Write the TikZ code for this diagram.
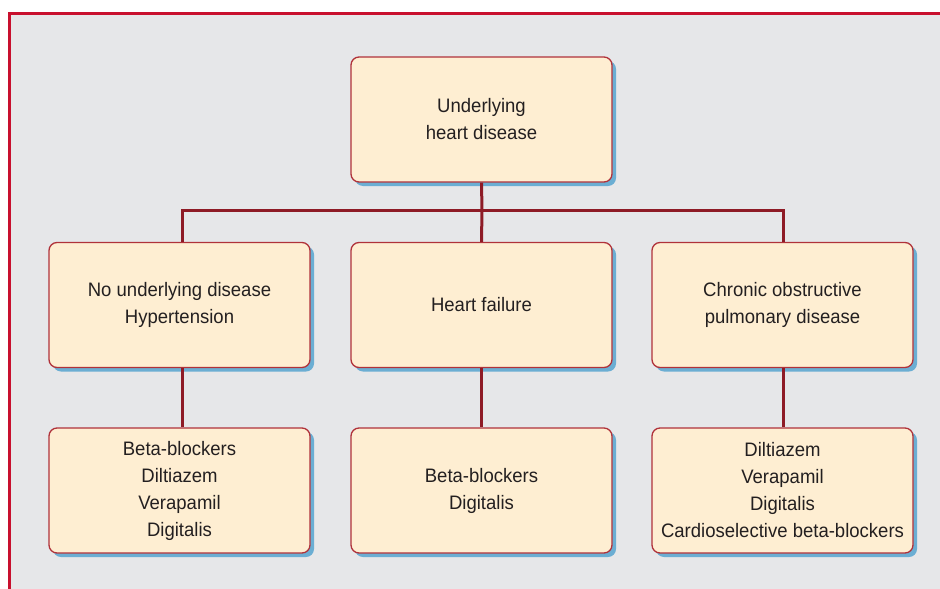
\documentclass[tikz,border=0pt]{standalone}
\usepackage{fontspec}
\setmainfont{Liberation Sans}[FakeStretch=0.95]
\usetikzlibrary{shadows}
\definecolor{bggray}{HTML}{E6E7E9}
\definecolor{frame}{HTML}{C8102E}
\definecolor{boxfill}{HTML}{FEEED2}
\definecolor{boxline}{HTML}{B0323A}
\definecolor{conn}{HTML}{8E1B26}
\definecolor{shadowblue}{HTML}{6BAED3}
\definecolor{txt}{HTML}{231F20}
\tikzset{
  box/.style={draw=boxline, line width=1.3pt, fill=boxfill, rounded corners=8pt,
    minimum width=261pt, minimum height=125pt, align=center, text=txt,
    font=\fontsize{19.5}{27}\selectfont, inner sep=0pt,
    drop shadow={shadow xshift=4pt, shadow yshift=-4pt, fill=shadowblue, opacity=1}},
  link/.style={draw=conn, line width=3pt}
}
\begin{document}
\begin{tikzpicture}[x=1pt,y=-1pt]
\useasboundingbox (0,0) rectangle (940,589);
\fill[bggray] (8,12) rectangle (940,589);
\draw[frame, line width=3pt] (9.5,589) -- (9.5,13.5) -- (940,13.5);
\node[box] (top) at (481.5,119.5) {Underlying\\heart disease};
\node[box] (ml) at (179.5,305) {No underlying disease\\Hypertension};
\node[box] (mm) at (481.5,305) {Heart failure};
\node[box] (mr) at (782.5,305) {Chronic obstructive\\pulmonary disease};
\node[box] (bl) at (179.5,490.5) {Beta-blockers\\Diltiazem\\Verapamil\\Digitalis};
\node[box] (bm) at (481.5,490.5) {Beta-blockers\\Digitalis};
\node[box] (br) at (782.5,490.5) {Diltiazem\\Verapamil\\Digitalis\\Cardioselective beta-blockers};
\coordinate (j) at (482,210);
\draw[link] (top.south) -- (j);
\draw[link] (j) -| ([xshift=2.5pt]ml.north);
\draw[link] (j) -| ([xshift=0.5pt]mr.north);
\draw[link] (j) -- (mm.north);
\draw[link] ([xshift=2.5pt]ml.south) -- ([xshift=2.5pt]bl.north);
\draw[link] (mm.south) -- (bm.north);
\draw[link] ([xshift=0.5pt]mr.south) -- ([xshift=0.5pt]br.north);
\end{tikzpicture}
\end{document}
